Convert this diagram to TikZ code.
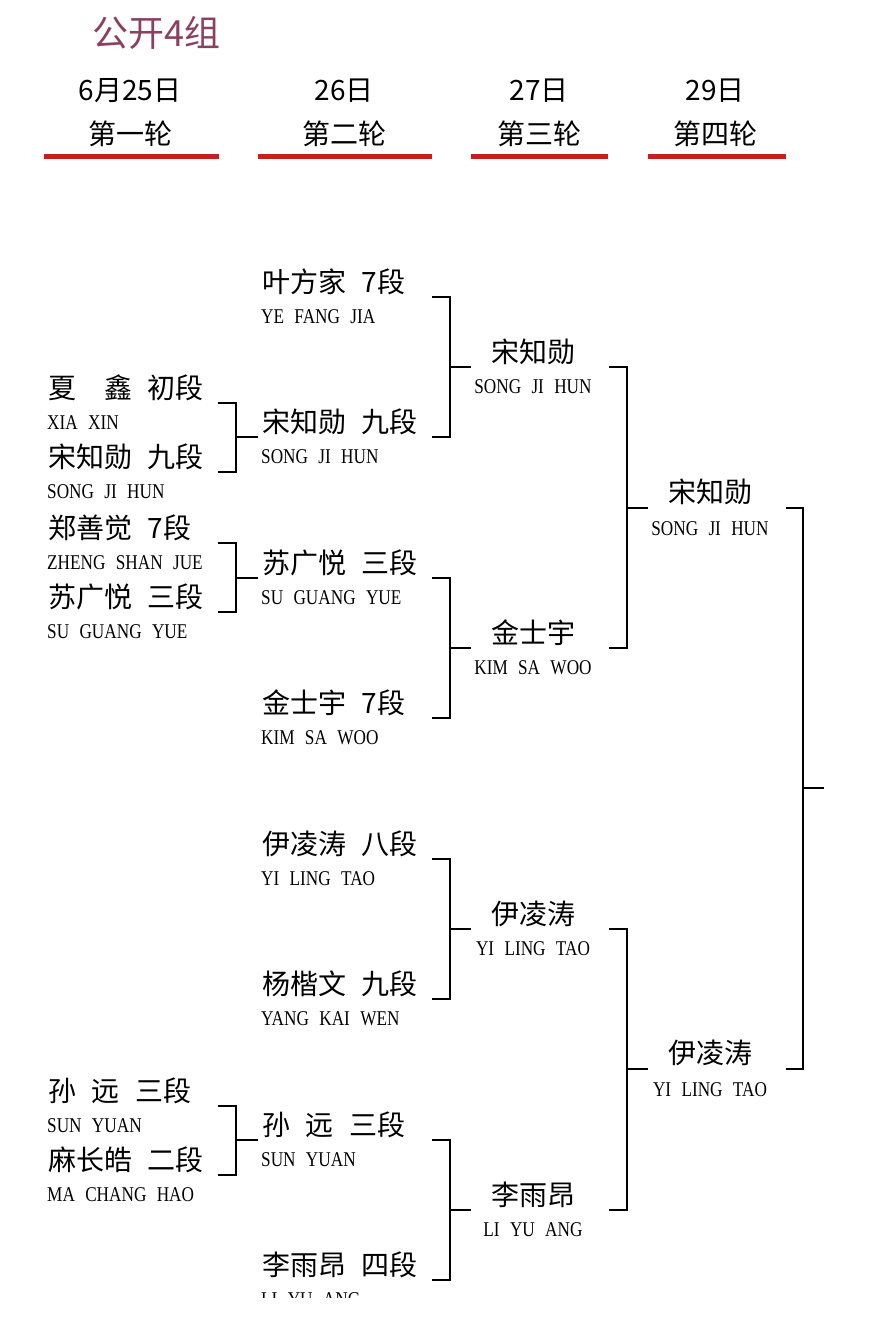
\documentclass[tikz,border=0pt]{standalone}
\usepackage{fontspec}
\setmainfont{Noto Sans CJK SC}[WordSpace=2.5]
\newfontfamily\pyfont{Liberation Serif}[FakeStretch=0.82, WordSpace=2.4]
\definecolor{titlecol}{RGB}{139,64,98}
\definecolor{barred}{RGB}{200,30,30}

\tikzset{
	title/.style={anchor=base west, inner sep=0pt, text=titlecol, font=\fontsize{36}{40}\selectfont},
	head/.style={anchor=base, inner sep=0pt, font=\fontsize{28}{32}\selectfont},
	cn/.style={anchor=base west, inner sep=0pt, font=\fontsize{28}{32}\selectfont},
	py/.style={anchor=base west, inner sep=0pt, font=\pyfont\fontsize{21}{24}\selectfont},
	bar/.style={barred, line width=5pt},
	brk/.style={black, line width=2.8pt},
}

\begin{document}
\begin{tikzpicture}[x=1pt, y=-1pt]
		\useasboundingbox (0,0) rectangle (881,1323);
		\clip (0,0) rectangle (881,1297);
		% title and round heads:
		\node [title] (title) at (92,46) {公开4组};
		\foreach \x/\d/\r/\a/\b [count=\i] in {130/6月25日/第一轮/44/219, 344/26日/第二轮/258/432, 539/27日/第三轮/471/608, 715/29日/第四轮/648/786}{
			\node [head] (day\i) at (\x,100) {\d};
			\node [head] (round\i) at (\x,144) {\r};
			\draw [bar] (\a,156)--(\b,156);
		}
		% columns of the brackets
		\coordinate (col1) at (236,0);
		\coordinate (col2) at (450,0);
		\coordinate (col3) at (627,0);
		\coordinate (col4) at (803,0);
		% round 1
		\foreach \y/\n/\p [count=\i] in {403/夏　鑫 初段/XIA XIN, 472/宋知勋 九段/SONG JI HUN, 543/郑善觉 7段/ZHENG SHAN JUE, 612/苏广悦 三段/SU GUANG YUE, 1106/孙 远 三段/SUN YUAN, 1175/麻长皓 二段/MA CHANG HAO}{
			\node [cn] (r1-\i) at (48,\y-5) {\n};
			\node [py] (r1-\i-py) at (47,\y+26) {\p};
			\coordinate (r1-\i-e) at (218,\y);
		}
		% round 2
		\foreach \y/\n/\p [count=\i] in {297/叶方家 7段/YE FANG JIA, 437/宋知勋 九段/SONG JI HUN, 578/苏广悦 三段/SU GUANG YUE, 718/金士宇 7段/KIM SA WOO, 859/伊凌涛 八段/YI LING TAO, 999/杨楷文 九段/YANG KAI WEN, 1140/孙 远 三段/SUN YUAN, 1280/李雨昂 四段/LI YU ANG}{
			\node [cn] (r2-\i) at (262,\y-5) {\n};
			\node [py] (r2-\i-py) at (261,\y+26) {\p};
			\coordinate (r2-\i-s) at (258,\y);
			\coordinate (r2-\i-e) at (432,\y);
		}
		% round 3
		\foreach \y/\n/\p [count=\i] in {367/宋知勋/SONG JI HUN, 648/金士宇/KIM SA WOO, 929/伊凌涛/YI LING TAO, 1210/李雨昂/LI YU ANG}{
			\node [cn, anchor=base] (r3-\i) at (533,\y-5) {\n};
			\node [py, anchor=base] (r3-\i-py) at (533,\y+26) {\p};
			\coordinate (r3-\i-s) at (471,\y);
			\coordinate (r3-\i-e) at (609,\y);
		}
		% round 4
		\foreach \y/\n/\p [count=\i] in {508/宋知勋/SONG JI HUN, 1069/伊凌涛/YI LING TAO}{
			\node [cn, anchor=base] (r4-\i) at (710,\y-6) {\n};
			\node [py, anchor=base] (r4-\i-py) at (710,\y+27) {\p};
			\coordinate (r4-\i-s) at (648,\y);
			\coordinate (r4-\i-e) at (786,\y);
		}
		% brackets
		\foreach \a/\b/\t [count=\j] in {1/2/2, 3/4/3, 5/6/7}{
			\coordinate (b1-\j) at (r2-\t-s -| col1);
			\draw [brk] (r1-\a-e) -| (b1-\j) |- (r1-\b-e);
			\draw [brk] (b1-\j)--(r2-\t-s);
		}
		\foreach \a/\b/\t [count=\j] in {1/2/1, 3/4/2, 5/6/3, 7/8/4}{
			\coordinate (b2-\j) at (r3-\t-s -| col2);
			\draw [brk] (r2-\a-e) -| (b2-\j) |- (r2-\b-e);
			\draw [brk] (b2-\j)--(r3-\t-s);
		}
		\foreach \a/\b/\t [count=\j] in {1/2/1, 3/4/2}{
			\coordinate (b3-\j) at (r4-\t-s -| col3);
			\draw [brk] (r3-\a-e) -| (b3-\j) |- (r3-\b-e);
			\draw [brk] (b3-\j)--(r4-\t-s);
		}
		% final
		\coordinate (b4) at (r4-1-e -| col4);
		\coordinate (b4-m) at (803,788);
		\coordinate (winner) at (824,788);
		\draw [brk] (r4-1-e)--(b4)--(b4 |- r4-2-e)--(r4-2-e);
		\draw [brk] (b4-m)--(winner);
	\end{tikzpicture}
\end{document}
